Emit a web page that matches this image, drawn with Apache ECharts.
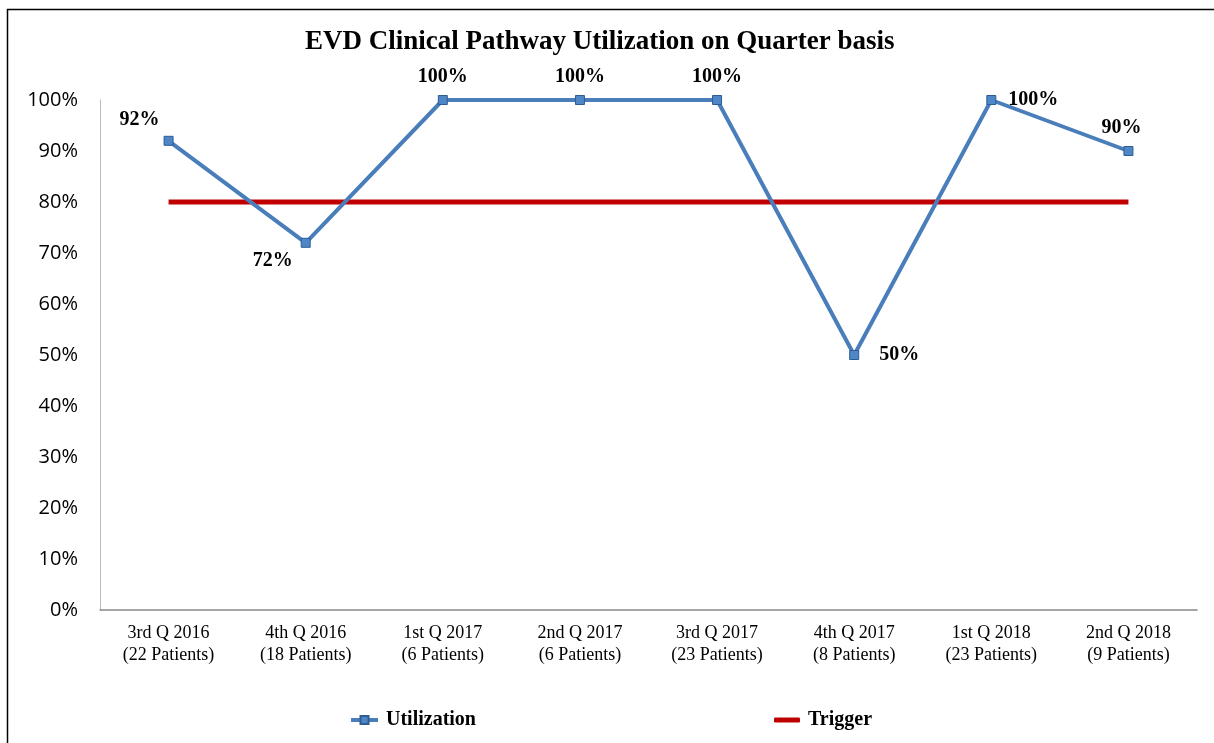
<!DOCTYPE html>
<html lang="en">
  <head>
    <meta charset="UTF-8" />
    <title>EVD Clinical Pathway Utilization</title>
    <style>
      html, body { margin: 0; padding: 0; background: #fff; }
      #container { width: 1214px; height: 743px; }
    </style>
    <script src="https://cdn.jsdelivr.net/npm/echarts@6.0.0/dist/echarts.min.js"></script>
  </head>
  <body>
    <div id="container"></div>
    <script>
      const quarters = [
        '3rd Q 2016\n(22 Patients)',
        '4th Q 2016\n(18 Patients)',
        '1st Q 2017\n(6 Patients)',
        '2nd Q 2017\n(6 Patients)',
        '3rd Q 2017\n(23 Patients)',
        '4th Q 2017\n(8 Patients)',
        '1st Q 2018\n(23 Patients)',
        '2nd Q 2018\n(9 Patients)',
      ]
      const utilization = [0.92, 0.72, 1.0, 1.0, 1.0, 0.5, 1.0, 0.9]
      const trigger = [0.8, 0.8, 0.8, 0.8, 0.8, 0.8, 0.8, 0.8]

      // where each value label sits relative to its point
      const labelPlace = [
        { position: 'top', offset: [-29, 2] },
        { position: 'bottom', offset: [-33, -5] },
        { position: 'top' },
        { position: 'top' },
        { position: 'top' },
        { position: 'right', offset: [12, 0] },
        { position: 'right', offset: [4, 0] },
        { position: 'top', offset: [-7, 0] },
      ]

      const serif = '"Liberation Serif", "Times New Roman", serif'
      const legendText = { fontFamily: serif, fontSize: 20, fontWeight: 'bold', color: '#000', padding: [0, 0, 0, 3] }
      const chart = echarts.init(document.getElementById('container'))

      chart.setOption({
        animation: false,
        title: {
          text: 'EVD Clinical Pathway Utilization on Quarter basis',
          left: 300,
          top: 24,
          textStyle: { fontFamily: serif, fontSize: 27, fontWeight: 'bold', color: '#000' },
        },
        graphic: [
          {
            type: 'rect',
            left: 5,
            top: 7,
            shape: { width: 1230, height: 800 },
            style: { fill: 'none', stroke: '#000', lineWidth: 1.5 },
            silent: true,
          },
        ],
        legend: [
          {
            left: 344,
            top: 705,
            itemWidth: 27,
            itemHeight: 10,
            lineStyle: { width: 4 },
            textStyle: legendText,
            data: ['Utilization'],
          },
          {
            left: 769,
            top: 705,
            itemWidth: 26,
            itemHeight: 5,
            icon: 'roundRect',
            textStyle: legendText,
            data: ['Trigger'],
          },
        ],
        grid: { left: 100, right: 17, top: 100, bottom: 133 },
        xAxis: {
          type: 'category',
          data: quarters,
          boundaryGap: true,
          axisLine: { lineStyle: { color: '#888', width: 1.5 } },
          axisTick: { show: false },
          axisLabel: {
            color: '#000',
            fontFamily: serif,
            fontSize: 18,
            lineHeight: 22,
            margin: 12,
          },
        },
        yAxis: {
          type: 'value',
          min: 0,
          max: 1,
          interval: 0.1,
          splitLine: { show: false },
          axisLine: { show: true, lineStyle: { color: '#bbb', width: 1 } },
          axisTick: { show: false },
          axisLabel: {
            color: '#000',
            fontFamily: '"Open Sans", sans-serif',
            fontSize: 20,
            margin: 22,
            formatter: (v) => Math.round(v * 100) + '%',
          },
        },
        series: [
          {
            name: 'Trigger',
            type: 'line',
            data: trigger,
            symbol: 'none',
            lineStyle: { color: '#c00000', width: 5 },
            itemStyle: { color: '#c00000' },
            z: 2,
          },
          {
            name: 'Utilization',
            type: 'line',
            data: utilization.map((v, i) => ({ value: v, label: labelPlace[i] })),
            symbol: 'rect',
            symbolSize: 9,
            lineStyle: { color: '#4a7ebb', width: 4 },
            itemStyle: { color: '#4f86c6', borderColor: '#2c5d95', borderWidth: 1 },
            label: {
              show: true,
              distance: 8,
              fontFamily: serif,
              fontSize: 20,
              fontWeight: 'bold',
              color: '#000',
              formatter: (p) => Math.round(p.value * 100) + '%',
            },
            z: 3,
          },
        ],
      })
    </script>
  </body>
</html>
